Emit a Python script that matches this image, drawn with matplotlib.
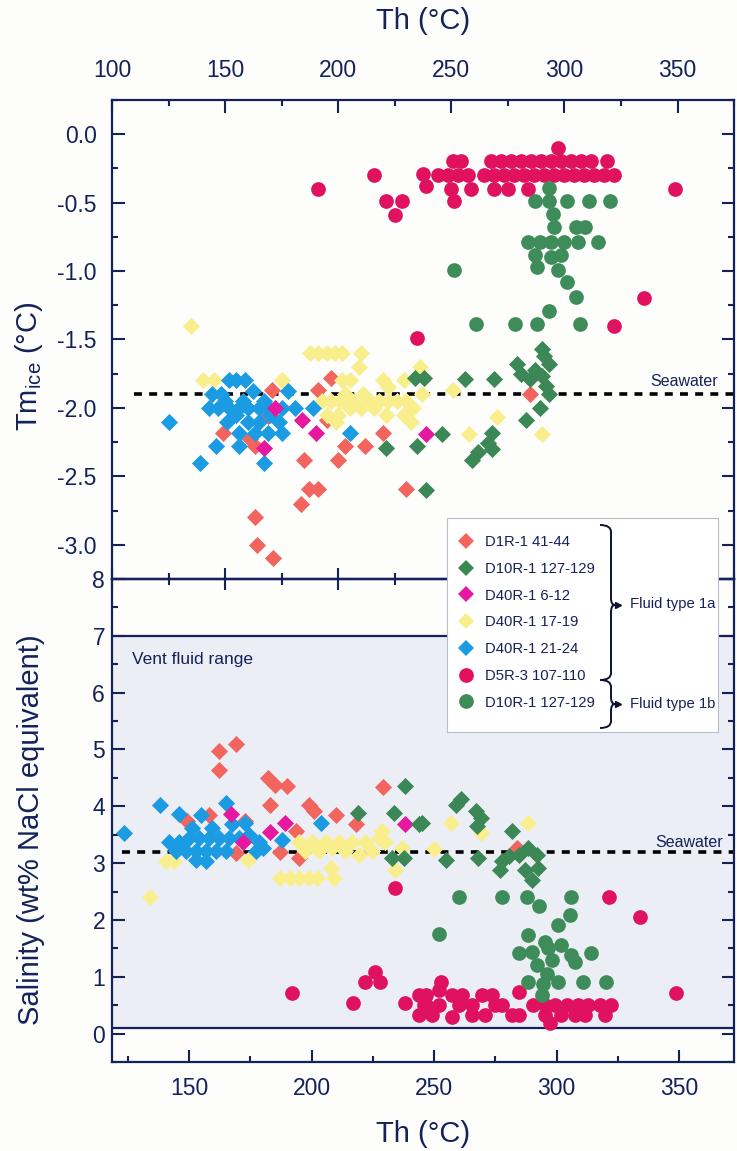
import matplotlib.pyplot as plt
from matplotlib.lines import Line2D
from matplotlib.path import Path
from matplotlib.patches import PathPatch
from matplotlib.ticker import MultipleLocator, FuncFormatter

plt.rcParams['font.family'] = ['Liberation Sans', 'DejaVu Sans']

# Th (°C) vs Tm_ice (°C) -- upper panel
d1r_th_tm = [149, 161, 163, 163, 164, 171, 170.6, 183.5, 185, 187, 191, 191, 195, 197,
             200, 203, 212, 220, 230, 285, 169]
d1r_tm = [-2.18, -2.23, -2.28, -2.8, -3.0, -3.1, -1.87, -2.7, -2.38, -2.59, -2.59, -1.87,
          -2.09, -1.78, -2.38, -2.28, -2.28, -2.18, -2.59, -1.9, -2.06]

d40r17_th_tm = [135, 187.5, 191, 195, 198.5, 201.5, 210, 209, 140, 145, 175, 201.5, 205, 220,
                229, 236, 250.7, 237, 193, 197, 201, 206, 211, 214, 218, 222, 226, 230, 233,
                195, 200, 205, 210, 216, 221, 229, 232, 199, 203, 222, 270, 258, 290]
d40r17_tm = [-1.4, -1.6, -1.6, -1.6, -1.6, -1.6, -1.6, -1.7, -1.8, -1.8, -1.8, -1.8, -1.8, -1.8,
             -1.8, -1.7, -1.87, -1.9, -1.95, -1.95, -1.95, -1.95, -1.9, -1.95, -1.95, -1.95,
             -1.95, -1.95, -2.0, -2.05, -2.05, -2.0, -2.0, -2.0, -2.05, -2.05, -2.1, -2.1,
             -1.9, -1.85, -2.07, -2.19, -2.19]

d40r21_th_tm = [125, 139, 146, 156, 167, 205, 151.5, 155, 159, 144, 148, 162.5, 178, 143, 147,
                151.5, 156, 160, 165, 169, 175, 181, 189, 151, 160, 165, 174, 156, 163, 169,
                175, 150, 158, 167, 155, 170]
d40r21_tm = [-2.1, -2.4, -2.28, -2.28, -2.4, -2.18, -1.8, -1.8, -1.8, -1.9, -1.9, -1.88, -1.88,
             -2.0, -2.0, -2.0, -2.0, -2.0, -2.0, -2.0, -2.0, -2.0, -2.0, -2.1, -2.1, -2.1,
             -2.1, -2.18, -2.18, -2.18, -2.18, -1.95, -1.95, -1.95, -2.05, -2.05]

d40r6_th_tm = [172, 184, 190, 167, 239]
d40r6_tm = [-2.0, -2.09, -2.18, -2.29, -2.19]

d10r_dia_th_tm = [234, 238, 221, 235, 239, 290, 279, 293, 256, 269, 281, 285, 290, 292, 293,
                  289, 283, 246, 268, 266, 262, 259, 268, 291, 287]
d10r_dia_tm = [-1.78, -1.78, -2.29, -2.28, -2.6, -1.57, -1.68, -1.68, -1.79, -1.79, -1.75,
               -1.79, -1.77, -1.84, -1.9, -2.0, -2.09, -2.19, -2.18, -2.26, -2.32, -2.38,
               -2.3, -1.62, -1.72]

d5r_th_tm = [191, 216, 221, 228, 225, 237.5, 239, 235, 297,
             250.7, 254.3, 267.6, 272, 276.4, 280.8, 285.2, 289.6, 294, 298.5, 302.9, 307.3,
             311.7, 319,
             244, 248.5, 252.9, 257.3, 264.6, 269, 273.5, 277.9, 282.3, 286.7, 291.1, 295.5,
             300, 304.3, 308.8, 313.2, 317.6, 322,
             250, 258.8, 269, 275, 283.8, 251, 349, 335, 322]
d5r_tm = [-0.4, -0.3, -0.49, -0.49, -0.59, -0.29, -0.38, -1.49, -0.1,
          -0.2, -0.2, -0.2, -0.2, -0.2, -0.2, -0.2, -0.2, -0.2, -0.2, -0.2, -0.2, -0.2, -0.2,
          -0.3, -0.3, -0.3, -0.3, -0.3, -0.3, -0.3, -0.3, -0.3, -0.3, -0.3, -0.3, -0.3, -0.3,
          -0.3, -0.3, -0.3, -0.3,
          -0.4, -0.4, -0.4, -0.4, -0.4, -0.49, -0.4, -1.2, -1.4]

d10r_circ_th_tm = [293, 287, 293, 301, 311, 320, 295, 295.5, 305, 309, 284, 289, 294, 300, 306,
                   315, 287, 294, 298.5, 288, 297, 251, 301, 305, 293, 261, 278, 288, 307]
d10r_circ_tm = [-0.39, -0.49, -0.49, -0.49, -0.49, -0.49, -0.58, -0.68, -0.68, -0.68, -0.79,
                -0.79, -0.79, -0.79, -0.79, -0.79, -0.88, -0.9, -0.88, -0.97, -0.99, -0.99,
                -1.08, -1.19, -1.29, -1.39, -1.39, -1.39, -1.39]

# Th (°C) vs salinity (wt% NaCl eq.) -- lower panel
d1r_th_sal = [162, 162, 169, 182, 185, 190, 183, 199, 201, 210, 229, 218, 158, 149, 173,
              193.5, 195, 169, 187, 284]
d1r_sal = [4.63, 4.97, 5.1, 4.5, 4.38, 4.35, 4.03, 4.03, 3.91, 3.85, 4.34, 3.68, 3.85, 3.74,
           3.74, 3.56, 3.09, 3.18, 3.2, 3.26]

d40r17_th_sal = [134, 140.5, 144, 174, 187, 191, 195, 199, 202, 209, 208, 234, 237,
                 194.8, 200.2, 205.7, 211.1, 216.6, 222, 227.4, 230.1, 197.5, 203, 208.4,
                 213.8, 219.3, 224.7, 228.8, 257, 269, 288.5, 250]
d40r17_sal = [2.41, 3.03, 3.03, 3.06, 2.74, 2.74, 2.74, 2.74, 2.74, 2.74, 2.91, 2.88, 3.26,
              3.38, 3.38, 3.38, 3.38, 3.38, 3.38, 3.44, 3.38, 3.21, 3.21, 3.26, 3.21, 3.15,
              3.21, 3.56, 3.71, 3.53, 3.71, 3.24]

d40r21_th_sal = [123.5, 138, 146, 155, 165, 173, 204, 188, 178.5, 180,
                 141.8, 145.9, 150, 154.1, 158.1, 162.2, 166.3, 170.4, 174.4, 144.5, 148.6,
                 152.7, 156.8, 160.9, 165, 152.7, 156.8, 177.2, 151.3, 159.5, 167.6]
d40r21_sal = [3.53, 4.03, 3.86, 3.85, 4.06, 3.7, 3.7, 3.41, 3.38, 3.26,
              3.38, 3.38, 3.44, 3.44, 3.44, 3.44, 3.44, 3.44, 3.5, 3.21, 3.21, 3.21, 3.21,
              3.21, 3.21, 3.06, 3.03, 3.21, 3.62, 3.62, 3.68]

d40r6_th_sal = [167, 172, 183, 189, 238]
d40r6_sal = [3.86, 3.38, 3.55, 3.7, 3.68]

d10r_dia_th_sal = [238, 219, 233.5, 244, 233, 237.6, 245, 259, 261, 267, 269, 267.6, 254.7,
                   268, 282, 277.7, 280.4, 284.5, 288.5, 292, 277, 287, 292.6, 290]
d10r_dia_sal = [4.35, 3.88, 3.88, 3.68, 3.09, 3.09, 3.71, 4.03, 4.12, 3.91, 3.79, 3.65, 3.06,
                3.09, 3.56, 3.03, 3.12, 3.15, 3.26, 3.15, 2.88, 2.88, 2.91, 2.71]

d5r_th_sal = [234, 192, 217, 222, 226, 228, 238, 244, 246, 321.6, 334, 348.6, 284.5, 252.7,
              246.6, 252, 257.4, 260.1, 257.4, 246.6, 252, 243.9, 265.5, 269.6, 273.6, 277.7,
              281.8, 284.5, 270.9, 265.5, 290.5, 295.3, 299.3, 304.1, 308.8, 312.8, 317.6,
              322.3, 297.3, 295.3, 302, 307.4, 311.5, 319.6, 275, 249.3, 261.5]
d5r_sal = [2.56, 0.72, 0.53, 0.91, 1.09, 0.9, 0.53, 0.68, 0.5, 2.41, 2.06, 0.71, 0.74, 0.91,
           0.68, 0.76, 0.68, 0.5, 0.29, 0.5, 0.5, 0.32, 0.5, 0.68, 0.68, 0.5,
           0.32, 0.32, 0.32, 0.32, 0.5, 0.5, 0.5, 0.5, 0.5, 0.5, 0.5,
           0.5, 0.18, 0.32, 0.32, 0.32, 0.32, 0.32, 0.5, 0.32, 0.68]

d10r_circ_th_sal = [260, 277.7, 287.8, 306, 293, 305.4, 300.7, 252, 288.5, 295.3, 284.5, 290,
                    296.6, 302, 306, 307.4, 314, 288.5, 294.6, 300.7, 293.9, 310.8, 320.3, 292,
                    296, 298]
d10r_circ_sal = [2.41, 2.41, 2.41, 2.41, 2.24, 2.09, 1.91, 1.75, 1.74, 1.62, 1.41, 1.44, 1.5,
                 1.56, 1.38, 1.26, 1.41, 0.91, 0.88, 0.91, 0.68, 0.91, 0.91, 1.2, 1.05, 1.3]

sample_labels = ['D1R-1 41-44', 'D10R-1 127-129', 'D40R-1 6-12', 'D40R-1 17-19',
                 'D40R-1 21-24', 'D5R-3 107-110', 'D10R-1 127-129']

seawater_tm = -1.9
seawater_sal = 3.2
vent_range = (0.1, 7.0)

NAVY = '#15225a'
DIA, CIRC = 76, 112

# (label index, colour, marker, upper data, lower data) in drawing order
series = [
    (0, '#f2645e', 'D', (d1r_th_tm, d1r_tm), (d1r_th_sal, d1r_sal)),
    (3, '#f9ee8c', 'D', (d40r17_th_tm, d40r17_tm), (d40r17_th_sal, d40r17_sal)),
    (4, '#1a9be2', 'D', (d40r21_th_tm, d40r21_tm), (d40r21_th_sal, d40r21_sal)),
    (2, '#e6189f', 'D', (d40r6_th_tm, d40r6_tm), (d40r6_th_sal, d40r6_sal)),
    (1, '#3b8756', 'D', (d10r_dia_th_tm, d10r_dia_tm), (d10r_dia_th_sal, d10r_dia_sal)),
    (5, '#e0115f', 'o', (d5r_th_tm, d5r_tm), (d5r_th_sal, d5r_sal)),
    (6, '#3f8c5b', 'o', (d10r_circ_th_tm, d10r_circ_tm), (d10r_circ_th_sal, d10r_circ_sal)),
]

fig = plt.figure(figsize=(7.37, 11.51), dpi=100, facecolor='#fdfdfb')
ax_b = fig.add_axes([0.152, 0.0773, 0.844, 0.4197], facecolor='none')
ax_t = fig.add_axes([0.152, 0.4970, 0.844, 0.4162], facecolor='none')

for ax in (ax_t, ax_b):
    for sp in ax.spines.values():
        sp.set_color(NAVY)
        sp.set_linewidth(1.6)
    ax.tick_params(which='both', colors=NAVY, width=1.5, labelsize=16.5)
    ax.tick_params(which='major', length=9)
    ax.tick_params(which='minor', length=4)

# upper panel
for idx, color, marker, (x, y), _ in series:
    ax_t.scatter(x, y, s=DIA if marker == 'D' else CIRC, marker=marker, c=color,
                 linewidths=0, zorder=3)
ax_t.axhline(seawater_tm, xmin=0.035, color='black', lw=2.6, dashes=(2.2, 2.0), zorder=2)
ax_t.text(368, -1.81, 'Seawater', ha='right', va='center', fontsize=11.5, color=NAVY)

ax_t.set_xlim(100, 375)
ax_t.set_ylim(-3.25, 0.25)
ax_t.xaxis.set_major_locator(MultipleLocator(50))
ax_t.xaxis.set_minor_locator(MultipleLocator(25))
ax_t.yaxis.set_major_locator(MultipleLocator(0.5))
ax_t.yaxis.set_minor_locator(MultipleLocator(0.25))
ax_t.yaxis.set_major_formatter(FuncFormatter(lambda v, p: f'{v:.1f}'.replace('-0.0', '0.0')))
ax_t.tick_params(axis='x', which='both', direction='in', top=True, bottom=False,
                 labeltop=True, labelbottom=False, pad=13)
ax_t.tick_params(axis='y', which='both', direction='in', left=True, right=True, pad=11)
ax_t.xaxis.set_label_position('top')
ax_t.set_xlabel('Th (°C)', fontsize=21, color=NAVY, va='center')
ax_t.xaxis.set_label_coords(0.5, 1.165)
ax_t.set_ylabel(r'Tm$_{\mathregular{ice}}$ (°C)', fontsize=21, color=NAVY)
ax_t.yaxis.set_label_coords(-0.108, 0.445)

# crossing ticks along the shared edge
sec = ax_t.secondary_xaxis('bottom')
sec.xaxis.set_major_locator(MultipleLocator(50))
sec.xaxis.set_minor_locator(MultipleLocator(25))
sec.tick_params(which='both', direction='inout', colors=NAVY, width=1.5, labelbottom=False)
sec.tick_params(which='major', length=16)
sec.tick_params(which='minor', length=8)
sec.spines['bottom'].set_color(NAVY)
sec.spines['bottom'].set_linewidth(1.6)

# lower panel
ax_b.axhspan(vent_range[0], vent_range[1], facecolor='#eceef6', edgecolor='none', zorder=0)
for v in vent_range:
    ax_b.axhline(v, color=NAVY, lw=1.6, zorder=1)
ax_b.text(126.5, 6.59, 'Vent fluid range', ha='left', va='center', fontsize=12.5, color=NAVY)

for idx, color, marker, _, (x, y) in series:
    ax_b.scatter(x, y, s=DIA if marker == 'D' else CIRC, marker=marker, c=color,
                 linewidths=0, zorder=3)
ax_b.axhline(seawater_sal, xmin=0.016, color='black', lw=2.6, dashes=(2.2, 2.0), zorder=2)
ax_b.text(368, 3.37, 'Seawater', ha='right', va='center', fontsize=11.5, color=NAVY)

ax_b.set_xlim(118.5, 372.5)
ax_b.set_ylim(-0.5, 8)
ax_b.xaxis.set_major_locator(MultipleLocator(50))
ax_b.xaxis.set_minor_locator(MultipleLocator(25))
ax_b.yaxis.set_major_locator(MultipleLocator(1))
ax_b.yaxis.set_minor_locator(MultipleLocator(0.5))
ax_b.tick_params(axis='x', which='both', direction='in', top=False, bottom=True, pad=11)
ax_b.tick_params(axis='y', which='both', direction='in', left=True, right=True, pad=5)
ax_b.set_xlabel('Th (°C)', fontsize=21, color=NAVY, va='center')
ax_b.xaxis.set_label_coords(0.5, -0.149)
ax_b.set_ylabel('Salinity (wt% NaCl equivalent)', fontsize=21, color=NAVY)
ax_b.yaxis.set_label_coords(-0.108, 0.48)

# legend panel straddling both plots
ax_leg = fig.add_axes([447 / 737, 1 - 732 / 1151, 271 / 737, 214 / 1151], zorder=5)
ax_leg.set_xlim(0, 271)
ax_leg.set_ylim(214, 0)
ax_leg.set_xticks([])
ax_leg.set_yticks([])
for sp in ax_leg.spines.values():
    sp.set_color('#b9bdca')
    sp.set_linewidth(0.8)

handles = [None] * len(sample_labels)
for idx, color, marker, _, _ in series:
    handles[idx] = Line2D([], [], linestyle='none', marker=marker, color=color,
                          markersize=8.6 if marker == 'D' else 10.6, markeredgewidth=0)
ax_leg.legend(handles, sample_labels, loc='upper left', bbox_to_anchor=(11.7 / 271, 1 - 17 / 214),
              frameon=False, fontsize=10.7, labelcolor=NAVY, handlelength=1.0,
              handletextpad=0.8, labelspacing=0.86, borderpad=0, borderaxespad=0)


def brace(ax, y0, y1, ym, x0, x1, x2):
    r = 7
    verts = [(x0, y0), (x1, y0), (x1, y0 + r), (x1, ym - r), (x1, ym), (x2, ym),
             (x1, ym), (x1, ym + r), (x1, y1 - r), (x1, y1), (x0, y1)]
    codes = [Path.MOVETO, Path.CURVE3, Path.CURVE3, Path.LINETO, Path.CURVE3, Path.CURVE3,
             Path.CURVE3, Path.CURVE3, Path.LINETO, Path.CURVE3, Path.CURVE3]
    ax.add_patch(PathPatch(Path(verts, codes), fill=False, edgecolor='#0d1230', lw=1.4))
    ax.plot(x2 + 3, ym, marker='>', ms=5, color='#0d1230', linestyle='none')


brace(ax_leg, 7, 162, 87, 153, 164, 168)
brace(ax_leg, 162, 210, 186, 153, 164, 168)
ax_leg.text(183, 86, 'Fluid type 1a', fontsize=10.7, color=NAVY, va='center')
ax_leg.text(183, 186, 'Fluid type 1b', fontsize=10.7, color=NAVY, va='center')

fig.savefig('out.png', dpi=100, facecolor=fig.get_facecolor())
